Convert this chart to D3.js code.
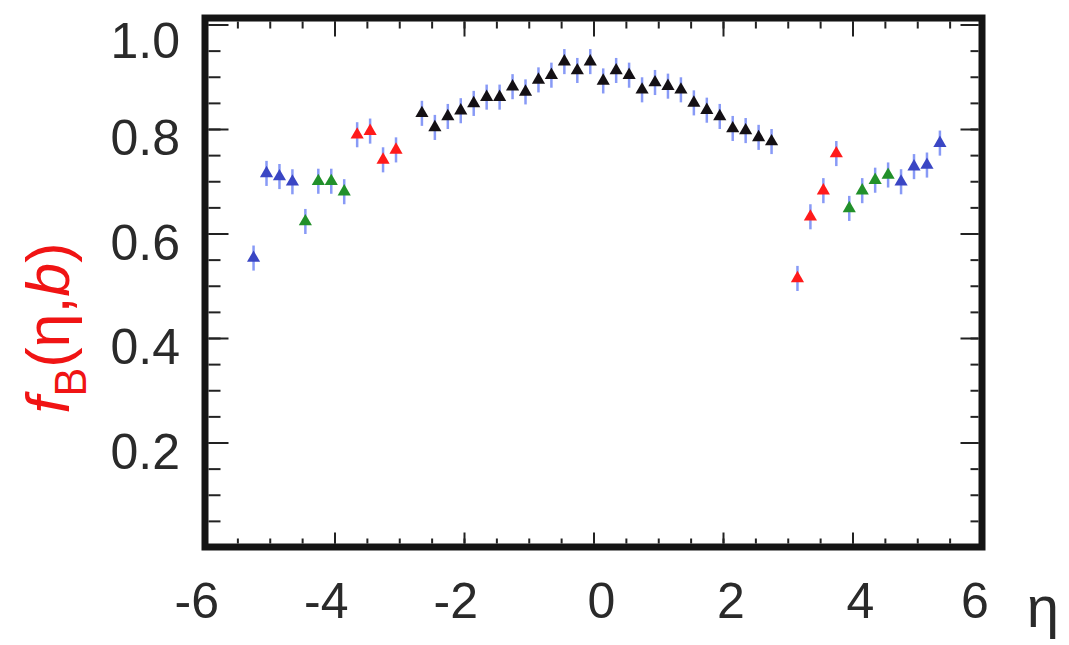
<!DOCTYPE html>
<html>
<head>
<meta charset="utf-8">
<script src="https://cdn.jsdelivr.net/npm/d3@7"></script>
<style>
  body { margin: 0; background: #fff; }
  text { font-family: "Liberation Sans", Arial, sans-serif; }
</style>
</head>
<body>
<div id="graph"></div>
<script>
// f_B(eta, b) vs eta, four groups of points

var blackEta = [-2.65, -2.45, -2.25, -2.05, -1.85, -1.65, -1.45, -1.25, -1.05, -0.85,
                -0.65, -0.45, -0.25, -0.05, 0.15, 0.35, 0.55, 0.75, 0.95, 1.15,
                1.35, 1.55, 1.75, 1.95, 2.15, 2.35, 2.55, 2.75];
var blackF = [0.830, 0.803, 0.824, 0.835, 0.849, 0.861, 0.861, 0.881, 0.871, 0.894,
              0.903, 0.929, 0.912, 0.929, 0.892, 0.912, 0.903, 0.875, 0.889, 0.882,
              0.875, 0.850, 0.836, 0.824, 0.801, 0.797, 0.784, 0.776];

var redEta = [-3.65, -3.45, -3.25, -3.05, 3.15, 3.35, 3.55, 3.75];
var redF = [0.789, 0.796, 0.741, 0.760, 0.514, 0.632, 0.682, 0.753];

var greenEta = [-4.45, -4.25, -4.05, -3.85, 3.95, 4.15, 4.35, 4.55];
var greenF = [0.623, 0.700, 0.700, 0.680, 0.648, 0.682, 0.702, 0.712];

var blueEta = [-5.25, -5.05, -4.85, -4.65, 4.75, 4.95, 5.15, 5.35];
var blueF = [0.553, 0.715, 0.709, 0.699, 0.699, 0.728, 0.731, 0.773];

var errBar = 0.024;

var xTickLabels = [-6, -4, -2, 0, 2, 4, 6];
var yTickLabels = [0.2, 0.4, 0.6, 0.8, 1.0];

var w = 1069, h = 645;
var vis = d3.select("#graph").append("svg").attr("width", w).attr("height", h);

var x = d3.scaleLinear().domain([-6, 6]).range([205, 982]);
var y = d3.scaleLinear().domain([0, 1]).range([547, 24.5]);
var yTop = y(1.0124);
var fw = 7; // frame thickness

// ticks (all point inward)
var xMinor = d3.range(-6, 6.01, 0.5);
var yMinor = d3.range(0, 1.01, 0.05);
var yMajor = [0, 0.2, 0.4, 0.6, 0.8, 1.0];

function tickAxis(axis, tx, ty) {
  var g = vis.append("g").attr("transform", "translate(" + tx + "," + ty + ")").call(axis);
  g.select(".domain").remove();
  g.selectAll("line").attr("stroke", "#222").attr("stroke-width", 2);
  return g;
}
tickAxis(d3.axisBottom(x).tickValues(xMinor).tickSize(-5).tickFormat(""), 0, y(0) - fw / 2);
tickAxis(d3.axisBottom(x).tickValues(xTickLabels).tickSize(-11).tickFormat(""), 0, y(0) - fw / 2);
tickAxis(d3.axisTop(x).tickValues(xMinor).tickSize(-7).tickFormat(""), 0, yTop + fw / 2);
tickAxis(d3.axisTop(x).tickValues(xTickLabels).tickSize(-15).tickFormat(""), 0, yTop + fw / 2);
tickAxis(d3.axisLeft(y).tickValues(yMinor).tickSize(-12).tickFormat(""), x(-6) + fw / 2, 0);
tickAxis(d3.axisLeft(y).tickValues(yMajor).tickSize(-20).tickFormat(""), x(-6) + fw / 2, 0);
tickAxis(d3.axisRight(y).tickValues(yMinor).tickSize(-8).tickFormat(""), x(6) - fw / 2, 0);
tickAxis(d3.axisRight(y).tickValues(yMajor).tickSize(-18).tickFormat(""), x(6) - fw / 2, 0);

// frame
vis.append("rect")
   .attr("x", x(-6)).attr("y", yTop)
   .attr("width", x(6) - x(-6)).attr("height", y(0) - yTop)
   .attr("fill", "none").attr("stroke", "#141414").attr("stroke-width", fw);

// tick labels
vis.selectAll("text.xlab")
   .data(xTickLabels)
   .enter().append("text")
   .attr("class", "xlab")
   .attr("x", d => d < 0 ? x(d) + 14 : Math.min(x(d) + 8, 975))
   .attr("y", 618)
   .attr("text-anchor", d => d < 0 ? "end" : "middle")
   .attr("font-size", 50)
   .attr("fill", "#2a2a2a")
   .text(d => d);

vis.selectAll("text.ylab")
   .data(yTickLabels)
   .enter().append("text")
   .attr("class", "ylab")
   .attr("x", 180)
   .attr("y", d => Math.max(y(d) + 8, 40))
   .attr("dy", "0.36em")
   .attr("text-anchor", "end")
   .attr("font-size", 50)
   .attr("fill", "#2a2a2a")
   .text(d => d.toFixed(1));

// axis titles
vis.append("text")
   .attr("x", 1043).attr("y", 627)
   .attr("text-anchor", "middle")
   .attr("font-size", 58)
   .attr("fill", "#2a2a2a")
   .text("\u03b7");

var yt = vis.append("text")
   .attr("transform", "translate(69,328) rotate(-90)")
   .attr("text-anchor", "middle")
   .attr("font-size", 62)
   .attr("fill", "#f01414")
   .attr("textLength", 171)
   .attr("lengthAdjust", "spacingAndGlyphs");
yt.append("tspan").attr("font-style", "italic").text("f");
yt.append("tspan").attr("font-size", 44).attr("dy", 17).text("B");
yt.append("tspan").attr("dy", -17).text("(\u03b7,");
yt.append("tspan").attr("font-style", "italic").text("b");
yt.append("tspan").text(")");

// points with error bars
var series = [
  { eta: blueEta, f: blueF, color: "#3a46c4" },
  { eta: greenEta, f: greenF, color: "#22902a" },
  { eta: redEta, f: redF, color: "#ff1a1a" },
  { eta: blackEta, f: blackF, color: "#141014" }
];

var tri = d3.symbol().type(d3.symbolTriangle).size(75);

series.forEach(function(s) {
  var pts = s.eta.map((e, i) => ({ eta: e, f: s.f[i] }));
  vis.append("g").selectAll("line")
     .data(pts)
     .enter().append("line")
     .attr("x1", d => x(d.eta)).attr("x2", d => x(d.eta))
     .attr("y1", d => y(d.f - errBar)).attr("y2", d => y(d.f + errBar))
     .attr("stroke", "#7388f5").attr("stroke-opacity", 0.85).attr("stroke-width", 2.5);
  vis.append("g").selectAll("path")
     .data(pts)
     .enter().append("path")
     .attr("d", tri)
     .attr("transform", d => "translate(" + x(d.eta) + "," + y(d.f) + ")")
     .attr("fill", s.color);
});
</script>
</body>
</html>
